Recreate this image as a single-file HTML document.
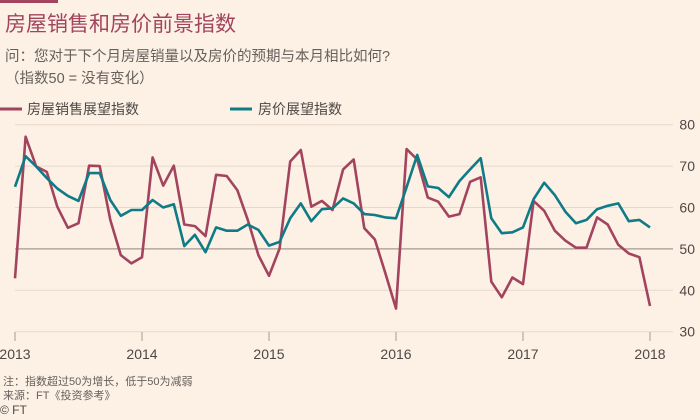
<!DOCTYPE html>
<html><head><meta charset="utf-8"><style>
body{margin:0;background:#fdf1e5;width:700px;height:420px;overflow:hidden;font-family:"Liberation Sans","Noto Sans CJK SC",sans-serif}
</style></head><body>
<svg width="700" height="420" style="position:absolute;left:0;top:0">
<rect x="0" y="0" width="700" height="420" fill="#fdf1e5"/>
<rect x="0" y="0" width="58" height="3" fill="#a3445e"/>
<text x="5" y="31" font-size="21" fill="#a3445e" font-family="'Liberation Sans','Noto Sans CJK SC',sans-serif">房屋销售和房价前景指数</text>
<text x="5" y="61" font-size="14.5" fill="#66605c" font-family="'Liberation Sans','Noto Sans CJK SC',sans-serif">问：您对于下个月房屋销量以及房价的预期与本月相比如何?</text>
<text x="5" y="83" font-size="14.5" fill="#66605c" font-family="'Liberation Sans','Noto Sans CJK SC',sans-serif">（指数50 = 没有变化）</text>
<g>
<line x1="0" y1="109" x2="22" y2="109" stroke="#a3445e" stroke-width="3"/>
<text x="27" y="114" font-size="14" fill="#4d4845" font-family="'Liberation Sans','Noto Sans CJK SC',sans-serif">房屋销售展望指数</text>
<line x1="230" y1="109" x2="252" y2="109" stroke="#0f7b87" stroke-width="3"/>
<text x="258" y="114" font-size="14" fill="#4d4845" font-family="'Liberation Sans','Noto Sans CJK SC',sans-serif">房价展望指数</text>
</g>
<g id="grid"></g><g id="xaxis"></g><g id="series"></g>
<text x="3" y="385" font-size="11" fill="#66605c" font-family="'Liberation Sans','Noto Sans CJK SC',sans-serif">注：指数超过50为增长，低于50为减弱</text>
<text x="3" y="399" font-size="11" fill="#66605c" font-family="'Liberation Sans','Noto Sans CJK SC',sans-serif">来源：FT《投资参考》</text>
<text x="0" y="414" font-size="12" fill="#4d4845">© FT</text>
</svg>
<script>
const yTicks=[30,40,50,60,70,80];
const xYears=[2013,2014,2015,2016,2017,2018];
const salesIndex=[42.9,77.1,69.9,68.6,60.2,55.1,56.2,70.1,70.0,57.0,48.5,46.5,48.0,72.1,65.3,70.1,55.9,55.5,53.1,67.9,67.6,64.2,57.0,48.5,43.5,50.1,71.1,73.9,60.2,61.6,59.4,69.2,71.6,55.0,52.3,44.1,35.6,74.1,71.6,62.4,61.4,57.8,58.4,66.2,67.3,42.1,38.3,43.1,41.5,61.6,59.2,54.4,52.0,50.3,50.3,57.6,55.9,51.0,48.9,48.0,36.2];
const priceIndex=[65.0,72.4,69.9,67.1,64.6,62.8,61.6,68.3,68.3,61.8,58.0,59.4,59.4,61.8,60.0,60.8,50.7,53.4,49.2,55.2,54.4,54.4,55.9,54.6,50.8,51.7,57.4,61.0,56.7,59.6,59.8,62.2,61.0,58.4,58.2,57.6,57.4,64.9,72.7,65.1,64.7,62.5,66.4,69.2,71.9,57.4,53.8,54.0,55.2,62.0,66.0,63.0,59.0,56.2,57.0,59.6,60.4,61.0,56.7,57.0,55.2];
const NS='http://www.w3.org/2000/svg';
const x0=15,x1=650,y80=124.7,yPer=4.14;
function xScale(m){return x0+(x1-x0)*m/60;}
function yScale(v){return y80+(80-v)*yPer;}
function mk(tag,attrs,parent){const e=document.createElementNS(NS,tag);for(const k in attrs)e.setAttribute(k,attrs[k]);parent.appendChild(e);return e;}
const grid=document.getElementById('grid');
yTicks.forEach(v=>{
 const l=mk('line',{x1:15,x2:673,y1:yScale(v),y2:yScale(v),stroke:v===50?'#a39b94':'#e6d9cc','stroke-width':v===50?1.3:1},grid);
 
 
 const t=mk('text',{x:695,y:yScale(v)+5,'font-size':14,fill:'#4d4845','text-anchor':'end'},grid);
 t.textContent=v;
 
 
});
const xa=document.getElementById('xaxis');
xYears.forEach((yr,i)=>{
 const x=xScale(i*12);
 const l=mk('line',{x1:x,x2:x,y1:332,y2:341,stroke:'#a39b94','stroke-width':1},xa);
 
 
 const t=mk('text',{x:x,y:359,'font-size':14,fill:'#4d4845','text-anchor':'middle'},xa);
 t.textContent=yr;
 
 
});
const sg=document.getElementById('series');
function pts(arr){return arr.map((v,i)=>xScale(i).toFixed(1)+','+yScale(v).toFixed(1)).join(' ');}
const p1=mk('polyline',{points:pts(salesIndex),fill:'none',stroke:'#a3445e','stroke-width':2.6,'stroke-linejoin':'round'},sg);


const p2=mk('polyline',{points:pts(priceIndex),fill:'none',stroke:'#0f7b87','stroke-width':2.6,'stroke-linejoin':'round'},sg);


</script>
</body></html>
